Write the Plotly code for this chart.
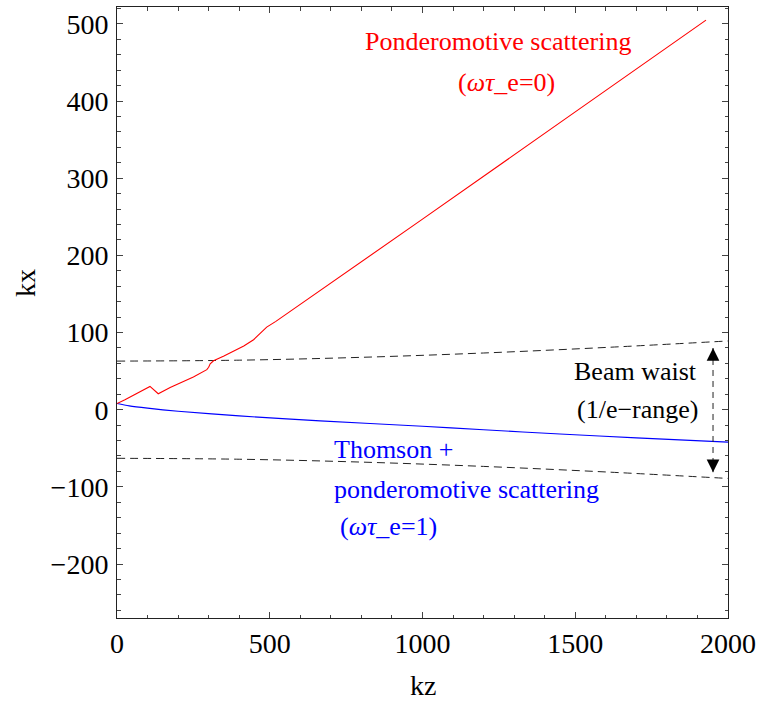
import plotly.graph_objects as go

# Trajectories in the (kz, kx) plane
red_kz = [0, 26, 108, 135, 174, 250, 294, 300, 305, 316, 350, 381, 415, 447, 470, 490, 520,
          763, 1000, 1500, 1928]
red_kx = [8, 13, 30.2, 20.7, 28.9, 42.5, 51.9, 55, 59.5, 63.5, 69.5, 75.6, 82.5, 90.7, 99,
          107, 114.5, 181.5, 247, 386, 505]

blue_kz = [0, 40, 100, 200, 400, 665, 1000, 1200, 1450, 1700, 2000]
blue_kx = [8, 5, 2, -2, -8, -14.5, -21.5, -26, -31.5, -36.5, -42]

# 1/e beam radius (upper edge; lower edge is its mirror)
waist_kz = [0, 400, 800, 1200, 1600, 2000]
waist_kx = [63, 64.2, 67.9, 73.5, 80.7, 89.1]

# Double arrow marking the beam waist
arrow_kz = 1951
arrow_kx = [80, -81]

xticks = [0, 500, 1000, 1500, 2000]
yticks = [-200, -100, 0, 100, 200, 300, 400, 500]
ytick_text = [("\u2212" + str(-v)) if v < 0 else str(v) for v in yticks]

FONT = "Liberation Serif, Times New Roman, serif"
W, H = 762, 702
L, R, T, B = 117, 34, 7, 84

fig = go.Figure()

dash = "8px,5px"
fig.add_trace(go.Scatter(x=waist_kz, y=waist_kx, mode="lines",
                         line=dict(color="#222222", width=1, dash=dash, shape="spline"),
                         hoverinfo="skip", showlegend=False))
fig.add_trace(go.Scatter(x=waist_kz, y=[-v for v in waist_kx], mode="lines",
                         line=dict(color="#222222", width=1, dash=dash, shape="spline"),
                         hoverinfo="skip", showlegend=False))
fig.add_trace(go.Scatter(x=blue_kz, y=blue_kx, mode="lines",
                         line=dict(color="#0000ff", width=1.1, shape="spline", smoothing=0.8),
                         showlegend=False))
fig.add_trace(go.Scatter(x=red_kz, y=red_kx, mode="lines",
                         line=dict(color="#ff0000", width=1.1),
                         showlegend=False))
fig.add_trace(go.Scatter(x=[arrow_kz, arrow_kz], y=arrow_kx, mode="lines",
                         line=dict(color="#222222", width=1, dash="6px,5px"),
                         hoverinfo="skip", showlegend=False))

# Arrow heads at both ends of the dashed shaft
for tip, tail in ((arrow_kx[0], arrow_kx[0] - 14), (arrow_kx[1], arrow_kx[1] + 14)):
    fig.add_annotation(x=arrow_kz, y=tip, ax=arrow_kz, ay=tail,
                       xref="x", yref="y", axref="x", ayref="y",
                       text="", showarrow=True, arrowhead=2,
                       arrowsize=2.3, arrowwidth=1.1, arrowcolor="#000000")

def label(text, x, y, color, xanchor="center"):
    fig.add_annotation(x=x, y=y, xref="x", yref="y", text=text, showarrow=False,
                       xanchor=xanchor, yanchor="middle",
                       font=dict(family=FONT, size=26, color=color))

label("Ponderomotive scattering", 1248, 477, "#ff0000")
label("(<i>ωτ</i>_e=0)", 1276, 424, "#ff0000")
label("Beam waist", 1698, 49.6, "#000000")
label("(1/e\u2212range)", 1705, 0, "#000000")
label("Thomson +", 703, -51.9, "#0000ff", "left")
label("ponderomotive scattering", 704, -103.7, "#0000ff", "left")
label("(<i>ωτ</i>_e=1)", 724, -151.3, "#0000ff", "left")

# Axis titles
fig.add_annotation(x=0.5, y=-0.1097, xref="paper", yref="paper", text="kz",
                   showarrow=False, xanchor="center", yanchor="middle",
                   font=dict(family=FONT, size=28, color="#000000"))
fig.add_annotation(x=(25 - L) / (W - L - R), y=(H - B - 283) / (H - B - T),
                   xref="paper", yref="paper", text="kx", textangle=-90,
                   showarrow=False, xanchor="center", yanchor="middle",
                   font=dict(family=FONT, size=28, color="#000000"))

axis_common = dict(showline=True, linecolor="#222222", linewidth=1, mirror="ticks",
                   ticks="inside", ticklen=6, tickcolor="#444444", tickwidth=1,
                   showgrid=False, zeroline=False,
                   tickfont=dict(family=FONT, size=28, color="#000000"))

fig.update_xaxes(range=[0, 2000], tickvals=xticks, ticktext=[str(v) for v in xticks],
                 minor=dict(dtick=100, tick0=0, ticks="inside", ticklen=3.5,
                            tickcolor="#444444", showgrid=False),
                 ticklabelstandoff=0, **axis_common)
fig.update_yaxes(range=[-270, 522], tickvals=yticks, ticktext=ytick_text,
                 minor=dict(dtick=20, tick0=0, ticks="inside", ticklen=3.5,
                            tickcolor="#444444", showgrid=False),
                 ticklabelstandoff=2, **axis_common)

fig.update_layout(width=W, height=H, margin=dict(l=L, r=R, t=T, b=B),
                  plot_bgcolor="white", paper_bgcolor="white",
                  font=dict(family=FONT))

fig.write_html("out.html")
